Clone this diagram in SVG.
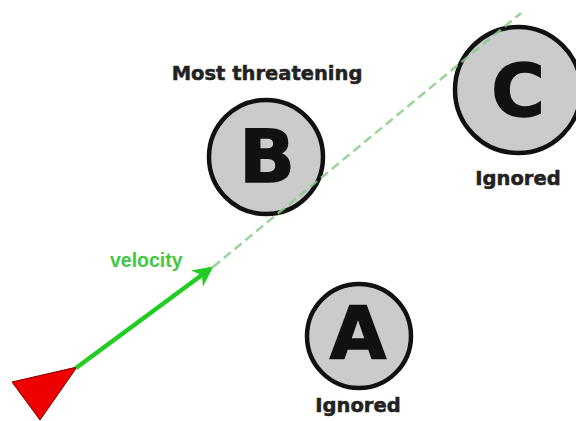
<svg xmlns="http://www.w3.org/2000/svg" width="576" height="421" viewBox="0 0 576 421">
<style>
.circ{fill:#cbcbcb;stroke:#111;stroke-width:4.5}
.letter{font-family:"DejaVu Sans",Verdana,sans-serif;font-weight:bold;font-size:73px;fill:#111;stroke:#111;stroke-width:1.5;text-anchor:middle}
.lbl{font-family:"DejaVu Sans",Verdana,sans-serif;font-weight:bold;font-size:19.5px;fill:#222;stroke:#222;stroke-width:0.5;text-anchor:middle}
.vel{font-family:"Liberation Sans",Arial,sans-serif;font-weight:bold;font-size:19.5px;fill:#44c844}
</style>
<defs>
<marker id="ah" viewBox="0 0 10 10" refX="8" refY="5" markerWidth="4.5" markerHeight="4.5" orient="auto" markerUnits="strokeWidth">
<path d="M0,0 L10,5 L0,10 L3,5 Z" fill="#22cc22"/>
</marker>
</defs>
<rect width="576" height="421" fill="#fff"/>
<g id="nodeB">
<circle class="circ" cx="266" cy="157" r="57"/>
<text class="letter" x="267" y="182">B</text>
<text class="lbl" x="267" y="80">Most threatening</text>
</g>
<g id="nodeC">
<circle class="circ" cx="518" cy="90" r="63"/>
<text class="letter" x="518" y="116">C</text>
<text class="lbl" x="518" y="185">Ignored</text>
</g>
<g id="nodeA">
<circle class="circ" cx="359" cy="336" r="52"/>
<text class="letter" x="358" y="359">A</text>
<text class="lbl" x="358" y="412">Ignored</text>
</g>
<g id="agent">
<polygon points="12,382 77,367 40,420" fill="#ee0000" stroke="#700" stroke-width="1"/>
</g>
<g id="connectors">
<line x1="213" y1="267" x2="521" y2="13" stroke="#88cc88" stroke-opacity="0.85" stroke-width="2.5" stroke-dasharray="9,5"/>
<line x1="76" y1="368" x2="210" y2="269" stroke="#22cc22" stroke-width="4.5" marker-end="url(#ah)"/>
<text class="vel" x="110" y="267">velocity</text>
</g>
</svg>
